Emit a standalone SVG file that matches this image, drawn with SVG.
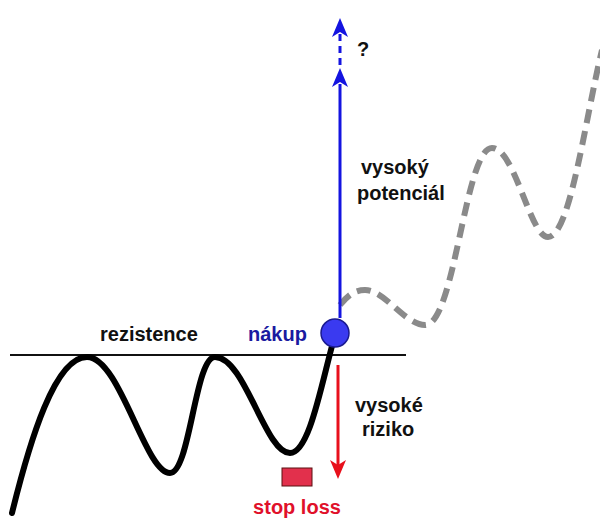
<svg xmlns="http://www.w3.org/2000/svg" width="600" height="525" viewBox="0 0 600 525">
<style>
.t{font-family:"Liberation Sans",Arial,sans-serif;font-weight:bold;font-size:20px;}
</style>
<rect width="600" height="525" fill="#fff"/>
<g id="connectors">
<line x1="10" y1="355" x2="406" y2="355" stroke="#111" stroke-width="2"/>
<path d="M340,305 C348,295 355,290 365,290 C385,290 405,325 425,325 C455,325 465,148 492,148 C515,148 530,237 548,237 C570,237 585,120 602,50" fill="none" stroke="#8a8a8a" stroke-width="6" stroke-dasharray="14 8"/>
<path d="M12,513 C30,440 55,357 87,357 C120,357 145,473 170,473 C190,473 195,357 215,357 C245,357 265,453 290,453 C310,453 322,380 335,335" fill="none" stroke="#000" stroke-width="6" stroke-linecap="round"/>
<line x1="340" y1="84" x2="340" y2="318" stroke="#1414e0" stroke-width="3"/>
<line x1="340" y1="34" x2="340" y2="70" stroke="#1414e0" stroke-width="3" stroke-dasharray="7 5"/>
<path d="M340,18 L348,37 L340,32 L332,37 Z" fill="#1414e0"/>
<path d="M340,68 L348,87 L340,82 L332,87 Z" fill="#1414e0"/>
<line x1="338" y1="365" x2="338" y2="468" stroke="#e8101c" stroke-width="3"/>
<path d="M338,479 L346,460 L338,465 L330,460 Z" fill="#e8101c"/>
</g>
<g id="buy">
<circle cx="335" cy="333" r="14" fill="#3a3af0" stroke="#1a1a90" stroke-width="1.5"/>
<text class="t" x="248" y="341" fill="#1a1aa0">nákup</text>
</g>
<g id="resistance"><text class="t" x="100" y="341" fill="#111">rezistence</text></g>
<g id="potential">
<text class="t" x="361" y="174" fill="#111">vysoký</text>
<text class="t" x="357" y="200" fill="#111">potenciál</text>
<text class="t" x="357" y="56" fill="#111" font-size="16">?</text>
</g>
<g id="risk">
<text class="t" x="355" y="412" fill="#111">vysoké</text>
<text class="t" x="362" y="436" fill="#111">riziko</text>
</g>
<g id="stoploss">
<rect x="282" y="468" width="30" height="18" fill="#e2304c" stroke="#5a1010" stroke-width="1"/>
<text class="t" x="297" y="514" fill="#e0102a" text-anchor="middle">stop loss</text>
</g>
</svg>
